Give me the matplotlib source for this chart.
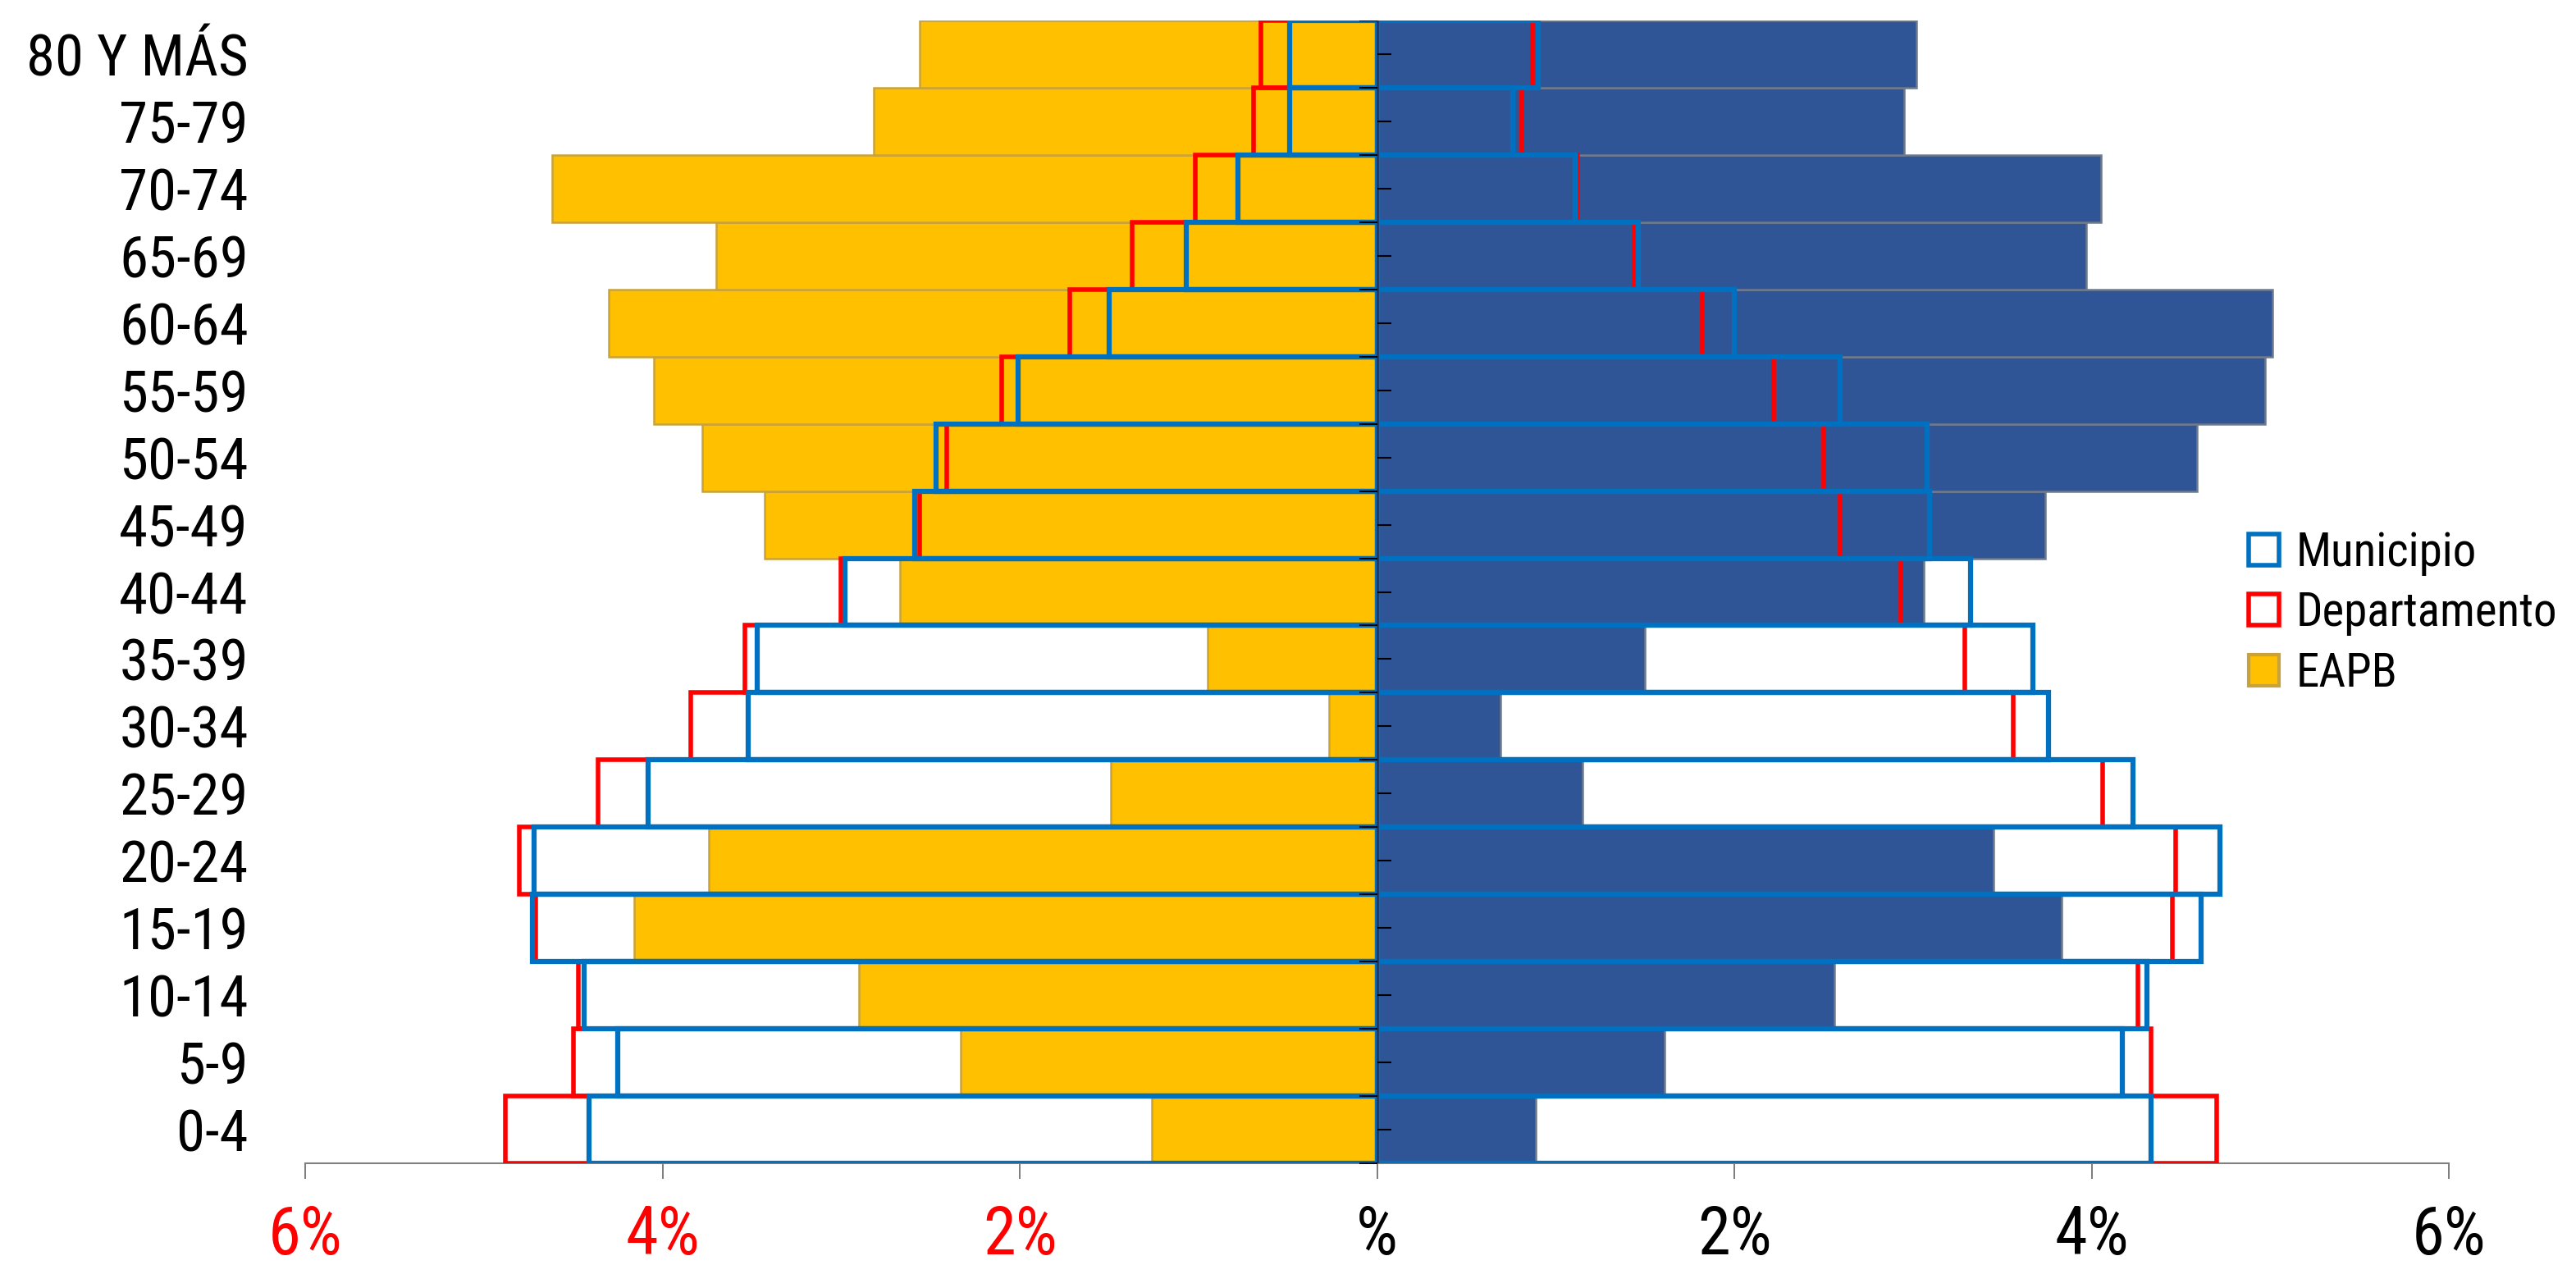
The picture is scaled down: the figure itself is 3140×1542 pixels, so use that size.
import matplotlib
matplotlib.use("Agg")
import matplotlib.pyplot as plt
from matplotlib.patches import Patch
import numpy as np

plt.rcParams['font.family'] = ['Liberation Sans Narrow', 'Arial Narrow', 'Roboto Condensed',
                               'Archivo Narrow', 'Liberation Sans', 'DejaVu Sans']

# Age groups, bottom to top
ages = ['0-4', '5-9', '10-14', '15-19', '20-24', '25-29', '30-34', '35-39', '40-44',
        '45-49', '50-54', '55-59', '60-64', '65-69', '70-74', '75-79', '80 Y MÁS']

# EAPB (filled bars), percent
eapb_left = [1.26, 2.33, 2.90, 4.16, 3.74, 1.49, 0.27, 0.95, 2.67, 3.43, 3.78, 4.05, 4.30, 3.70, 4.62, 2.82, 2.56]
eapb_right = [0.89, 1.61, 2.56, 3.83, 3.45, 1.15, 0.69, 1.50, 3.06, 3.74, 4.59, 4.97, 5.01, 3.97, 4.05, 2.95, 3.02]

# Municipio (blue outline)
mun_left = [4.41, 4.25, 4.44, 4.73, 4.72, 4.08, 3.52, 3.47, 2.98, 2.59, 2.47, 2.01, 1.50, 1.07, 0.78, 0.49, 0.49]
mun_right = [4.33, 4.17, 4.31, 4.61, 4.72, 4.23, 3.76, 3.67, 3.32, 3.09, 3.08, 2.59, 2.00, 1.46, 1.11, 0.76, 0.90]

# Departamento (red outline)
dep_left = [4.88, 4.50, 4.47, 4.71, 4.80, 4.36, 3.84, 3.54, 3.00, 2.56, 2.41, 2.10, 1.72, 1.37, 1.02, 0.69, 0.65]
dep_right = [4.70, 4.33, 4.26, 4.45, 4.47, 4.06, 3.56, 3.29, 2.93, 2.59, 2.50, 2.22, 1.82, 1.44, 1.12, 0.81, 0.87]

xticks = [-6, -4, -2, 0, 2, 4, 6]
xtick_labels = ['6%', '4%', '2%', '%', '2%', '4%', '6%']
xtick_colors = ['#FF0000', '#FF0000', '#FF0000', 'black', 'black', 'black', 'black']

YELLOW = '#FFC000'
NAVY = '#2F5597'
BLUE = '#0070C0'
RED = '#FF0000'

fig = plt.figure(figsize=(31.4, 15.42), dpi=100)
ax = fig.add_axes([0.1185, 0.0804, 0.8322, 0.9034])

y = np.arange(len(ages))
neg = lambda v: -np.asarray(v)

# Filled EAPB bars
ax.barh(y, neg(eapb_left), height=1.0, color=YELLOW, edgecolor='#C9A23A', linewidth=1.8, zorder=2)
ax.barh(y, eapb_right, height=1.0, color=NAVY, edgecolor='#6F7A8C', linewidth=1.8, zorder=2)

# Departamento outlines
ax.barh(y, neg(dep_left), height=1.0, fill=False, edgecolor=RED, linewidth=4.0, zorder=3)
ax.barh(y, dep_right, height=1.0, fill=False, edgecolor=RED, linewidth=4.0, zorder=3)

# Municipio outlines
ax.barh(y, neg(mun_left), height=1.0, fill=False, edgecolor=BLUE, linewidth=4.5, zorder=4)
ax.barh(y, mun_right, height=1.0, fill=False, edgecolor=BLUE, linewidth=4.5, zorder=4)

# Category axis at x = 0
ax.axvline(0, color='#1F3864', linewidth=2.0, zorder=5)
ax.plot(np.zeros(len(ages)), y, linestyle='none', marker=1, markersize=12,
        markeredgewidth=1.5, color='black', zorder=6)
bounds = np.arange(len(ages) + 1) - 0.5
ax.plot(np.zeros(len(bounds)), bounds, linestyle='none', marker=0, markersize=16,
        markeredgewidth=1.5, color='black', zorder=6)

ax.set_xlim(-6, 6)
ax.set_ylim(-0.5, len(ages) - 0.5)

ax.set_yticks(y)
ax.set_yticklabels(ages, fontsize=51)
ax.tick_params(axis='y', length=0, pad=50)

ax.set_xticks(xticks)
ax.set_xticklabels(xtick_labels, fontsize=58)
for lab, c in zip(ax.get_xticklabels(), xtick_colors):
    lab.set_color(c)
ax.tick_params(axis='x', direction='out', length=14, width=1.2, color='#666666', pad=22)

for s in ['left', 'right', 'top']:
    ax.spines[s].set_visible(False)
ax.spines['bottom'].set_color('#808080')
ax.spines['bottom'].set_linewidth(1.5)

handles = [
    Patch(facecolor='none', edgecolor=BLUE, linewidth=4, label='Municipio'),
    Patch(facecolor='none', edgecolor=RED, linewidth=4, label='Departamento'),
    Patch(facecolor=YELLOW, edgecolor='#C9A23A', linewidth=3.0, label='EAPB'),
]
fig.legend(handles=handles, loc='center left', bbox_to_anchor=(0.873, 0.515),
           frameon=False, fontsize=41, handlelength=0.65, handleheight=0.65,
           handletextpad=0.35, labelspacing=0.33, borderpad=0, borderaxespad=0)

fig.savefig('out.png', dpi=100)
